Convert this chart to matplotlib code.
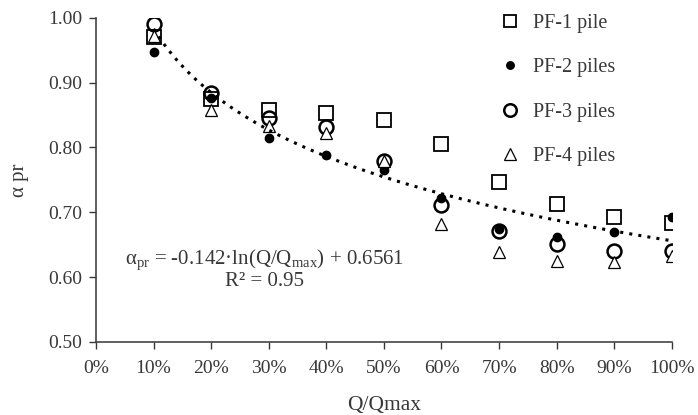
import numpy as np
import matplotlib.pyplot as plt
from matplotlib.ticker import PercentFormatter

plt.rcParams['font.family'] = ['Liberation Serif', 'DejaVu Serif']
plt.rcParams['mathtext.fontset'] = 'custom'
plt.rcParams['mathtext.rm'] = 'Liberation Serif'

load_ratio = [0.1, 0.2, 0.3, 0.4, 0.5, 0.6, 0.7, 0.8, 0.9, 1.0]

pf1 = [0.970, 0.875, 0.858, 0.853, 0.842, 0.806, 0.747, 0.713, 0.693, 0.683]
pf2 = [0.947, 0.876, 0.815, 0.789, 0.766, 0.722, 0.675, 0.662, 0.670, 0.693]
pf3 = [0.990, 0.884, 0.846, 0.831, 0.779, 0.711, 0.671, 0.651, 0.641, 0.640]
pf4 = [0.972, 0.858, 0.833, 0.822, 0.779, 0.682, 0.639, 0.625, 0.624, 0.633]

# log trend  a_pr = k*ln(Q/Qmax) + c
k_fit = -0.142
c_fit = 0.6561

txt = '#383838'

fig = plt.figure(figsize=(6.98, 4.15), dpi=100)
ax = fig.add_axes([0.1375, 0.176, 0.825, 0.781])

ax.plot(load_ratio, pf1, ls='none', marker='s', ms=9.5, mfc='white', mec='black', mew=1.3, label='PF-1 pile')
ax.plot(load_ratio, pf2, ls='none', marker='o', ms=6, mfc='black', mec='black', label='PF-2 piles')
ax.plot(load_ratio, pf3, ls='none', marker='o', ms=10, mfc='none', mec='black', mew=1.8, label='PF-3 piles')
ax.plot(load_ratio, pf4, ls='none', marker='^', ms=9, mfc='white', mec='black', mew=0.9, label='PF-4 piles')

xs = np.linspace(0.1, 1.0, 200)
ax.plot(xs, k_fit * np.log(xs) + c_fit, color='black', ls=(0, (1, 2)), lw=2.2)

ax.set_xlim(0, 1.0)
ax.set_ylim(0.5, 1.0)
ax.set_xticks(np.arange(0, 1.01, 0.1))
ax.set_yticks(np.arange(0.5, 1.01, 0.1))
ax.xaxis.set_major_formatter(PercentFormatter(1.0, decimals=0))
ax.yaxis.set_major_formatter(lambda v, p: f'{v:.2f}')
ax.tick_params(direction='out', length=5, width=1, labelsize=14, colors=txt)
ax.tick_params(axis='y', pad=5)
ax.tick_params(axis='x', pad=8)
for side in ['top', 'right']:
    ax.spines[side].set_visible(False)
for side in ['left', 'bottom']:
    ax.spines[side].set_color('#444444')
    ax.spines[side].set_linewidth(1.2)

ax.set_xlabel('Q/Qmax', fontsize=15.5, color=txt, labelpad=14)
ax.set_ylabel('α pr', fontsize=15, color=txt, labelpad=14)

ax.text(0.292, 0.612,
        r'$\mathregular{\alpha_{pr}}$ = -0.142·ln(Q/Q$\mathregular{_{max}}$) + 0.6561' + '\nR² = 0.95',
        fontsize=15, color=txt, ha='center', va='center', multialignment='center',
        linespacing=1.05)

ax.legend(loc='upper left', bbox_to_anchor=(0.667, 1.068), frameon=False, fontsize=14.5,
          markerscale=0.9, labelspacing=1.25, handletextpad=0.55, handlelength=1.2,
          labelcolor=txt)

fig.savefig('out.png', dpi=100)
